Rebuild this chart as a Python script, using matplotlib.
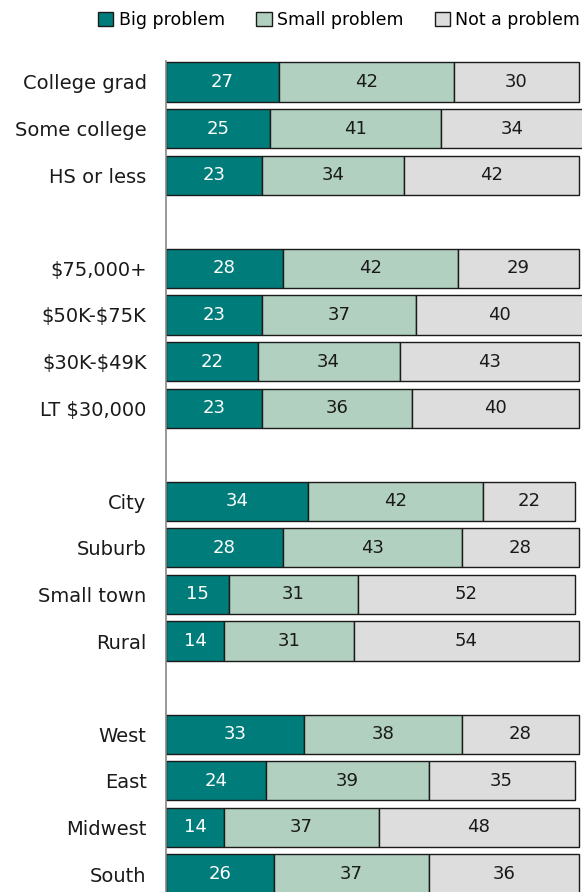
import matplotlib.pyplot as plt
from matplotlib.patches import Patch

# data (None marks the blank spacer rows)
labels = ["College grad", "Some college", "HS or less", None,
          "\\$75,000+", "\\$50K-\\$75K", "\\$30K-\\$49K", "LT \\$30,000", None,
          "City", "Suburb", "Small town", "Rural", None,
          "West", "East", "Midwest", "South"]
big = [27, 25, 23, None, 28, 23, 22, 23, None, 34, 28, 15, 14, None, 33, 24, 14, 26]
small = [42, 41, 34, None, 42, 37, 34, 36, None, 42, 43, 31, 31, None, 38, 39, 37, 37]
not_prob = [30, 34, 42, None, 29, 40, 43, 40, None, 22, 28, 52, 54, None, 28, 35, 48, 36]

series = ["Big problem", "Small problem", "Not a problem"]
colors = ["#007d7a", "#b2d0bf", "#dddddd"]
text_colors = ["white", "#1a1a1a", "#1a1a1a"]

W, H = 582, 892
fig = plt.figure(figsize=(W / 100, H / 100), dpi=100)
ax = fig.add_axes([166 / W, 0, 1 - 166 / W, 1 - 61 / H])

rows = [i for i, lab in enumerate(labels) if lab is not None]
left = [0] * len(labels)
for vals, col, tcol in zip([big, small, not_prob], colors, text_colors):
    ys = rows
    ws = [vals[i] for i in rows]
    ls = [left[i] for i in rows]
    ax.barh(ys, ws, left=ls, height=0.84, color=col, edgecolor="#1a1a1a",
            linewidth=1.0)
    for y, w, l in zip(ys, ws, ls):
        ax.text(l + w / 2, y, str(w), ha="center", va="center",
                color=tcol, fontsize=13)
    for i in rows:
        left[i] += vals[i]

ax.set_xlim(0, 416 / 4.17)
ax.set_ylim(17 + (892 - 874) / 46.6, -(82 - 61) / 46.6)
ax.set_yticks(rows)
ax.set_yticklabels([labels[i] for i in rows], fontsize=14, color="#1a1a1a")
ax.tick_params(axis="y", length=0, pad=14)
ax.set_xticks([])
for s in ["top", "right", "bottom"]:
    ax.spines[s].set_visible(False)
ax.spines["left"].set_color("#888888")
ax.spines["left"].set_linewidth(1.2)

handles = [Patch(facecolor=c, edgecolor="#1a1a1a", label=s) for c, s in zip(colors, series)]
fig.legend(handles=handles, loc="center right", bbox_to_anchor=(0.997, 1 - 20 / H),
           ncol=3, frameon=False, fontsize=12.5, handlelength=0.9, handleheight=0.9,
           handletextpad=0.3, columnspacing=1.8, borderaxespad=0, borderpad=0)

fig.savefig("out.png", dpi=100)
